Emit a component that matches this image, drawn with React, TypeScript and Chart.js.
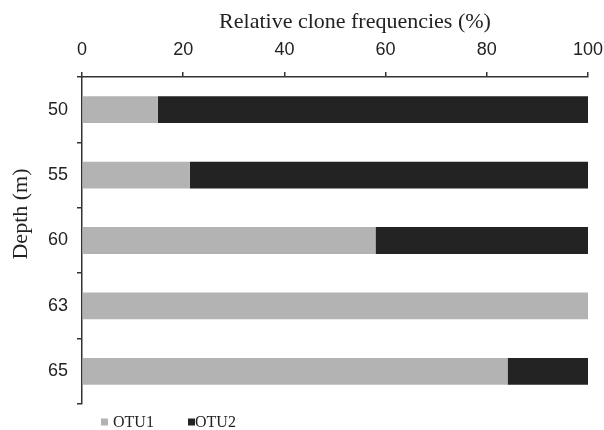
import React, { useEffect, useRef } from "react";
import { Chart, registerables } from "chart.js";

Chart.register(...registerables);

const depths = ["50", "55", "60", "63", "65"];
const otu1 = [15, 21.3, 58, 100, 84.1];
const otu2 = [85, 78.7, 42, 0, 15.9];
const seriesNames = ["OTU1", "OTU2"];
const seriesColors = ["#b3b3b3", "#232323"];
const xTicks = [0, 20, 40, 60, 80, 100];
const xTitle = "Relative clone frequencies (%)";
const yTitle = "Depth (m)";

const SERIF = "'Liberation Serif', 'Times New Roman', serif";
const SANS = "'Liberation Sans', Arial, sans-serif";
const AXIS = "#333333";

const decorPlugin = {
  id: "decor",
  afterDraw(chart: any) {
    const { ctx, chartArea } = chart;
    ctx.save();
    ctx.fillStyle = "#222";
    // x title
    ctx.font = `22px ${SERIF}`;
    ctx.textAlign = "center";
    ctx.textBaseline = "middle";
    ctx.fillText(xTitle, chartArea.left + 273, 22);
    // y title
    ctx.save();
    ctx.translate(21, chartArea.top + 137);
    ctx.rotate(-Math.PI / 2);
    ctx.fillText(yTitle, 0, 0);
    ctx.restore();
    // legend
    ctx.font = `16px ${SERIF}`;
    ctx.textAlign = "left";
    const ly = chartArea.bottom + 18;
    const starts = [chartArea.left + 19, chartArea.left + 106];
    chart.data.datasets.forEach((ds: any, i: number) => {
      const x = starts[i];
      ctx.fillStyle = ds.backgroundColor;
      ctx.fillRect(x, ly - 3.5, 7, 7);
      ctx.fillStyle = "#222";
      ctx.fillText(ds.label, x + (i === 0 ? 12 : 7), ly + 0.5);
    });
    ctx.restore();
  },
};

export default function App() {
  const ref = useRef<HTMLCanvasElement>(null);
  useEffect(() => {
    if (!ref.current) return;
    const chart = new Chart(ref.current, {
      type: "bar",
      data: {
        labels: depths,
        datasets: [
          { label: seriesNames[0], data: otu1, backgroundColor: seriesColors[0] },
          { label: seriesNames[1], data: otu2, backgroundColor: seriesColors[1] },
        ],
      },
      options: {
        indexAxis: "y",
        responsive: false,
        animation: false,
        layout: { padding: { left: 0, right: 16, top: 0, bottom: 26 } },
        datasets: { bar: { barPercentage: 0.41, categoryPercentage: 1 } },
        plugins: { legend: { display: false }, tooltip: { enabled: false } },
        scales: {
          x: {
            position: "top",
            stacked: true,
            min: 0,
            max: 100,
            afterBuildTicks: (scale: any) => {
              scale.ticks = xTicks.map((v) => ({ value: v }));
            },
            afterFit: (scale: any) => {
              scale.height = 77;
              scale.paddingLeft = 0;
              scale.paddingRight = 0;
            },
            ticks: { color: "#222", font: { family: SANS, size: 18 }, padding: 11 },
            grid: { drawOnChartArea: false, drawTicks: true, tickLength: 5, color: AXIS, lineWidth: 1.5 },
            border: { display: true, color: AXIS, width: 1.5 },
          },
          y: {
            stacked: true,
            afterFit: (scale: any) => {
              scale.width = 82;
              scale.paddingTop = 0;
              scale.paddingBottom = 0;
            },
            ticks: { color: "#222", font: { family: SANS, size: 18 }, padding: 9 },
            grid: { offset: true, drawOnChartArea: false, drawTicks: true, tickLength: 5, color: AXIS, lineWidth: 1.5 },
            border: { display: true, color: AXIS, width: 1.5 },
          },
        },
      },
      plugins: [decorPlugin],
    } as any);
    return () => chart.destroy();
  }, []);
  return (
    <div style={{ position: "absolute", left: 0, top: 0, width: 604, height: 430, background: "#fff" }}>
      <canvas ref={ref} width={604} height={430} />
    </div>
  );
}
